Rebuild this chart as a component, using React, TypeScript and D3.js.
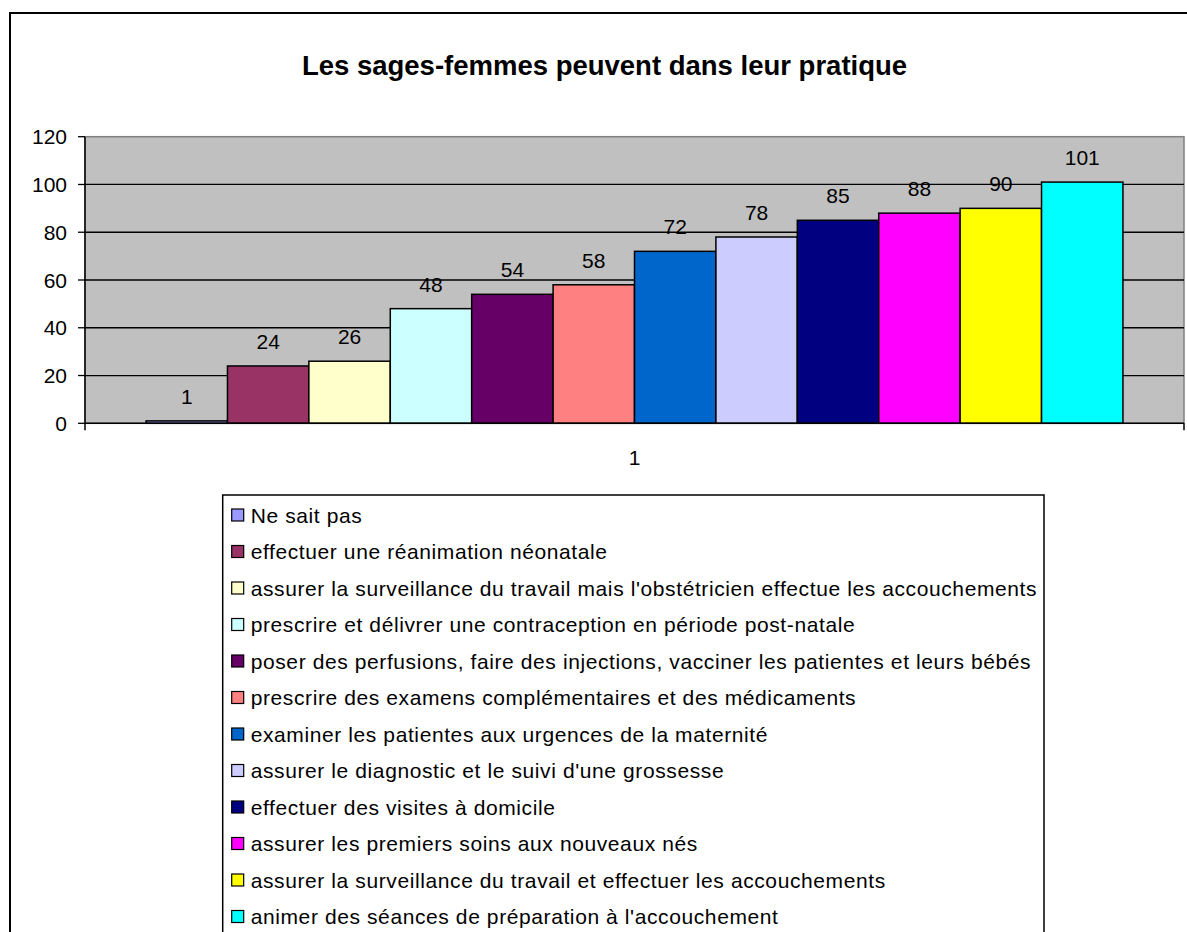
import React from 'react';
import * as d3 from 'd3';

// données du graphique
const categories = ['1'];
const seriesNames = [
  'Ne sait pas',
  'effectuer une réanimation néonatale',
  "assurer la surveillance du travail mais l'obstétricien effectue les accouchements",
  'prescrire et délivrer une contraception en période post-natale',
  'poser des perfusions, faire des injections, vacciner les patientes et leurs bébés',
  'prescrire des examens complémentaires et des médicaments',
  'examiner les patientes aux urgences de la maternité',
  "assurer le diagnostic et le suivi d'une grossesse",
  'effectuer des visites à domicile',
  'assurer les premiers soins aux nouveaux nés',
  'assurer la surveillance du travail et effectuer les accouchements',
  "animer des séances de préparation à l'accouchement",
];
const seriesValues = [1, 24, 26, 48, 54, 58, 72, 78, 85, 88, 90, 101];
const seriesColors = [
  '#9999FF', '#993366', '#FFFFCC', '#CCFFFF', '#660066', '#FF8080',
  '#0066CC', '#CCCCFF', '#000080', '#FF00FF', '#FFFF00', '#00FFFF',
];
const yTicks = [0, 20, 40, 60, 80, 100, 120];
const title = 'Les sages-femmes peuvent dans leur pratique';

const W = 1187;
const H = 932;
const FONT = '"Liberation Sans", Arial, sans-serif';

export default function App() {
  // zone de tracé
  const plot = { left: 85, right: 1184, top: 136.7, bottom: 423.3 };

  const x0 = d3.scaleBand().domain(categories).range([plot.left, plot.right]).padding(0);
  // largeur d'intervalle 150 %
  const x1 = d3
    .scaleBand()
    .domain(seriesNames)
    .range([0, x0.bandwidth()])
    .paddingInner(0)
    .paddingOuter(0.75);
  const y = d3.scaleLinear().domain([0, 120]).range([plot.bottom, plot.top]);

  // légende
  const legend = { left: 222.7, top: 495, right: 1044, rowH: 36.5, firstRow: 515 };

  return (
    <div style={{ position: 'absolute', left: 0, top: 0 }}>
      <svg width={W} height={H} style={{ display: 'block', fontFamily: FONT }}>
        <rect x={0} y={0} width={W} height={H} fill="#fff" />
        {/* cadre du graphique */}
        <rect x={10} y={13} width={1300} height={1100} fill="#fff" stroke="#000" strokeWidth={2} />

        <text x={604.5} y={75} textAnchor="middle" fontSize={27.5} fontWeight="bold" fill="#000">
          {title}
        </text>

        {/* fond de la zone de tracé */}
        <rect
          x={plot.left}
          y={plot.top}
          width={plot.right - plot.left}
          height={plot.bottom - plot.top}
          fill="#C0C0C0"
          stroke="#808080"
          strokeWidth={1.5}
        />

        {/* quadrillage */}
        {yTicks
          .filter((t) => t > 0 && t < 120)
          .map((t) => (
            <line key={t} x1={plot.left} x2={plot.right} y1={y(t)} y2={y(t)} stroke="#000" strokeWidth={1.3} />
          ))}

        {/* barres */}
        {categories.map((c) => (
          <g key={c} transform={`translate(${x0(c)},0)`}>
            {seriesNames.map((s, i) => (
              <rect
                key={s}
                x={x1(s)}
                y={y(seriesValues[i])}
                width={x1.bandwidth()}
                height={y(0) - y(seriesValues[i])}
                fill={seriesColors[i]}
                stroke="#000"
                strokeWidth={1.5}
              />
            ))}
            {seriesNames.map((s, i) => (
              <text
                key={s}
                x={(x1(s) || 0) + x1.bandwidth() / 2}
                y={y(seriesValues[i]) - 17}
                textAnchor="middle"
                fontSize={21}
                fill="#000"
              >
                {seriesValues[i]}
              </text>
            ))}
          </g>
        ))}

        {/* axe Y */}
        <line x1={plot.left} x2={plot.left} y1={plot.top} y2={plot.bottom + 7} stroke="#000" strokeWidth={1.5} />
        {yTicks.map((t) => (
          <g key={t}>
            <line x1={plot.left - 7} x2={plot.left} y1={y(t)} y2={y(t)} stroke="#000" strokeWidth={1.3} />
            <text x={67} y={y(t) + 7.5} textAnchor="end" fontSize={21} fill="#000">
              {t}
            </text>
          </g>
        ))}

        {/* axe X */}
        <line x1={plot.left} x2={plot.right} y1={plot.bottom} y2={plot.bottom} stroke="#000" strokeWidth={1.5} />
        <line x1={plot.right} x2={plot.right} y1={plot.bottom} y2={plot.bottom + 7} stroke="#000" strokeWidth={1.5} />
        {categories.map((c) => (
          <text key={c} x={(x0(c) || 0) + x0.bandwidth() / 2} y={464.5} textAnchor="middle" fontSize={21} fill="#000">
            {c}
          </text>
        ))}

        {/* légende */}
        <rect
          x={legend.left}
          y={legend.top}
          width={legend.right - legend.left}
          height={460}
          fill="#fff"
          stroke="#000"
          strokeWidth={1.5}
        />
        {seriesNames.map((s, i) => {
          const cy = legend.firstRow + i * legend.rowH;
          return (
            <g key={s}>
              <rect x={231.7} y={cy - 6} width={12} height={12} fill={seriesColors[i]} stroke="#000" strokeWidth={1.2} />
              <text x={250.7} y={cy + 7.5} fontSize={21} letterSpacing={0.6} fill="#000">
                {s}
              </text>
            </g>
          );
        })}
      </svg>
    </div>
  );
}
